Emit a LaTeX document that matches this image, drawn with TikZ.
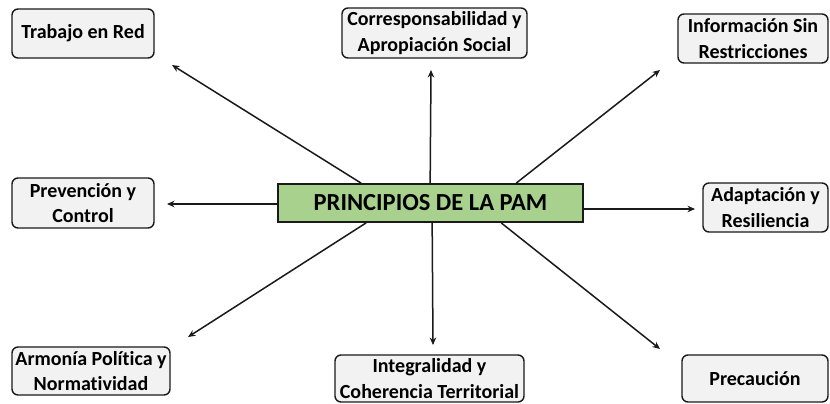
\documentclass[tikz,border=0pt]{standalone}
\usepackage{fontspec}
\setmainfont{Carlito}[Ligatures={NoCommon}]
\usetikzlibrary{calc,arrows.meta}
\definecolor{boxfill}{HTML}{F2F2F2}
\definecolor{cgreen}{HTML}{A9D18E}
\definecolor{ink}{HTML}{1A1A1A}
\tikzset{
  pbox/.style={draw=ink, line width=1.4pt, rounded corners=6pt, fill=boxfill,
    align=center, inner sep=0pt, font=\bfseries\fontsize{20}{25.5}\selectfont},
  cbox/.style={draw=ink, line width=1.7pt, fill=cgreen, inner sep=0pt,
    minimum width=305pt, minimum height=38pt, font=\bfseries\fontsize{24.5}{26}\selectfont},
  arr/.style={draw=ink, line width=1.5pt, -{Stealth[length=7.5pt,width=6.5pt]}}
}
\begin{document}
\begin{tikzpicture}[x=1pt,y=-1pt]
\useasboundingbox (0,0) rectangle (830,404);
\fill[white] (0,0) rectangle (830,404);
\node[cbox] (c) at (430.5,203) {PRINCIPIOS DE LA PAM};
\node[pbox, minimum width=142pt, minimum height=49pt] (t1) at (83,33.5) {Trabajo en Red};
\node[pbox, minimum width=185pt, minimum height=50pt] (t2) at (434.5,33) {Corresponsabilidad y\\Apropiación Social};
\node[pbox, minimum width=150pt, minimum height=49pt] (t3) at (753,38.5) {Información Sin\\Restricciones};
\node[pbox, minimum width=142pt, minimum height=50pt] (t4) at (83,203) {Prevención y\\Control};
\node[pbox, minimum width=125pt, minimum height=49pt] (t5) at (765.5,207.5) {Adaptación y\\Resiliencia};
\node[pbox, minimum width=158pt, minimum height=48pt] (t6) at (91,371) {Armonía Política y\\Normatividad};
\node[pbox, minimum width=189pt, minimum height=47pt] (t7) at (429.5,378.5) {Integralidad y\\Coherencia Territorial};
\node[pbox, minimum width=146pt, minimum height=47pt] (t8) at (755,378.5) {Precaución};
% free arrow ends
\coordinate (e1) at (172,65);
\coordinate (e2) at (431,70);
\coordinate (e3) at (660,70);
\coordinate (e4) at (167,204);
\coordinate (e5) at (695,209);
\coordinate (e6) at (188,337);
\coordinate (e7) at (433,345);
\coordinate (e8) at (660,349);
\draw[arr] ($(c.north west)+(84,0)$) -- (e1);
\draw[arr] ($(c.north west)+(153,0)$) -- (e2);
\draw[arr] ($(c.north west)+(239,0)$) -- (e3);
\draw[arr] ($(c.west)+(0,1)$) -- (e4);
\draw[arr] ($(c.east)+(0,6)$) -- (e5);
\draw[arr] ($(c.south west)+(89,0)$) -- (e6);
\draw[arr] ($(c.south west)+(155,0)$) -- (e7);
\draw[arr] ($(c.south west)+(224,0)$) -- (e8);
\end{tikzpicture}
\end{document}
